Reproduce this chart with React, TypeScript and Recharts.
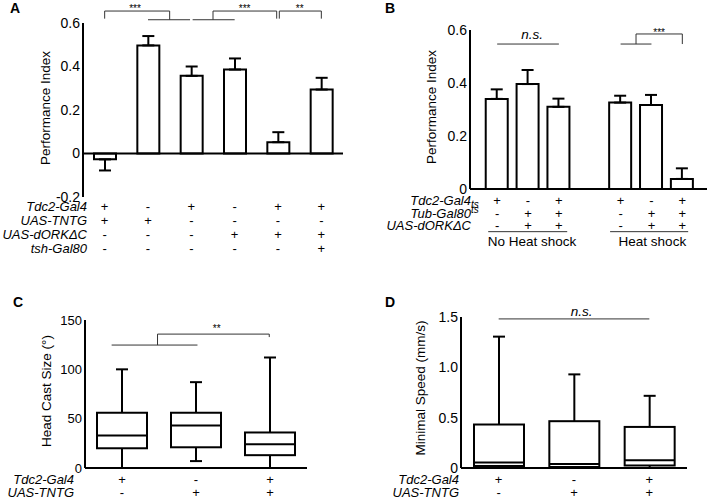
import React from 'react';
import { ComposedChart, Bar, XAxis, YAxis, ErrorBar, ReferenceLine, ReferenceDot } from 'recharts';

const FONT = '"Liberation Sans", Arial, Helvetica, sans-serif';

// ---- panel A: performance index
const aValues = [-0.027, 0.497, 0.357, 0.386, 0.052, 0.294];
const aSem = [0.051, 0.043, 0.043, 0.051, 0.046, 0.054];
const aRows = ['Tdc2-Gal4', 'UAS-TNTG', 'UAS-dORKΔC', 'tsh-Gal80'];
const aGeno = [
  ['+', '-', '+', '-', '+', '+'],
  ['+', '+', '-', '-', '-', '-'],
  ['-', '-', '-', '+', '+', '+'],
  ['-', '-', '-', '-', '-', '+'],
];
const aTicks = [-0.2, 0, 0.2, 0.4, 0.6];

// ---- panel B: performance index, heat shock
const bValues = [0.34, 0.396, 0.31, 0.326, 0.317, 0.038];
const bSem = [0.036, 0.053, 0.031, 0.026, 0.038, 0.04];
const bRows = ['Tdc2-Gal4', 'Tub-Gal80', 'UAS-dORKΔC'];
const bGeno = [
  ['+', '-', '+', '+', '-', '+'],
  ['-', '+', '+', '-', '+', '+'],
  ['-', '+', '+', '-', '+', '+'],
];
const bGroups = ['No Heat shock', 'Heat shock'];
const bTicks = [0, 0.2, 0.4, 0.6];

// ---- panel C: head cast size
const cMin = [0, 7, 0];
const cQ1 = [20, 21, 13];
const cMedian = [33, 43, 24];
const cQ3 = [56, 56, 36];
const cMax = [100, 87, 112];
const cTicks = [0, 50, 100, 150];

// ---- panel D: minimal speed
const dMin = [0, 0, 0];
const dQ1 = [0.02, 0.01, 0.025];
const dMedian = [0.055, 0.04, 0.077];
const dQ3 = [0.432, 0.465, 0.408];
const dMax = [1.305, 0.93, 0.717];
const dTicks = [0, 0.5, 1, 1.5];

const cdRows = ['Tdc2-Gal4', 'UAS-TNTG'];
const cdGeno = [
  ['+', '-', '+'],
  ['-', '+', '+'],
];

type Seg = [number, number, number, number];
type Note = { x: number; y: number; text: string; italic?: boolean; size?: number };

// significance brackets, in data units
const aLinks: Seg[] = [
  [1, 0.62, 1, 0.655], [1, 0.655, 2.5, 0.655], [2.5, 0.655, 2.5, 0.615], [2, 0.615, 2.97, 0.615],
  [3.03, 0.615, 4, 0.615], [3.5, 0.615, 3.5, 0.655], [3.5, 0.655, 4.97, 0.655], [4.97, 0.655, 4.97, 0.62],
  [5.03, 0.62, 5.03, 0.655], [5.03, 0.655, 6, 0.655], [6, 0.655, 6, 0.62],
];
const aNotes: Note[] = [
  { x: 1.7, y: 0.65, text: '***', size: 10 },
  { x: 4.23, y: 0.65, text: '***', size: 10 },
  { x: 5.5, y: 0.65, text: '**', size: 10 },
];
const bLinks: Seg[] = [
  [1, 0.547, 3, 0.547],
  [5, 0.547, 6, 0.547], [5.5, 0.547, 5.5, 0.585], [5.5, 0.585, 7, 0.585], [7, 0.585, 7, 0.547],
  [0.71, -0.161, 3.27, -0.161], [4.66, -0.161, 7.19, -0.161],
];
const bNotes: Note[] = [
  { x: 2.13, y: 0.566, text: 'n.s.', italic: true },
  { x: 6.25, y: 0.577, text: '***', size: 10 },
  { x: 2.13, y: -0.215, text: bGroups[0] },
  { x: 6.03, y: -0.215, text: bGroups[1] },
];
const cLinks: Seg[] = [
  [0.86, 124.6, 2.02, 124.6], [1.48, 124.6, 1.48, 135.7], [1.48, 135.7, 2.99, 135.7], [2.99, 135.7, 2.99, 132.7],
];
const cNotes: Note[] = [{ x: 2.28, y: 137.8, text: '**', size: 10 }];
const dLinks: Seg[] = [[1, 1.481, 3, 1.481]];
const dNotes: Note[] = [{ x: 2.1, y: 1.511, text: 'n.s.', italic: true }];

const aPos = aValues.map((_, i) => i + 1);
const bPos = bValues.map((_, i) => i + 1 + (i >= 3 ? 1 : 0)); // empty slot between groups
const cdPos = cMax.map((_, i) => i + 1);

const aData = aValues.map((v, i) => ({ pos: aPos[i], value: v, err: v < 0 ? [aSem[i], 0] : [0, aSem[i]] }));
const bData = bValues.map((v, i) => ({ pos: bPos[i], value: v, err: [0, bSem[i]] }));
const cData = cdPos.map((p, i) => ({ pos: p, min: cMin[i], q1: cQ1[i], median: cMedian[i], q3: cQ3[i], max: cMax[i] }));
const dData = cdPos.map((p, i) => ({ pos: p, min: dMin[i], q1: dQ1[i], median: dMedian[i], q3: dQ3[i], max: dMax[i] }));

const fmt1 = (v: number) => (v === 0 ? '0' : v.toFixed(1));
const axisStyle = { stroke: '#000', strokeWidth: 2 };
const tickStyle = { fill: '#000', fontSize: 14, fontFamily: FONT };

const makeTick = (positions: number[], geno: string[][], firstDy: number, gap: number) => (props: any) => {
  const i = positions.indexOf(props.payload?.value);
  if (i < 0) return <g />;
  return (
    <g>
      {geno.map((row, r) => (
        <text key={r} x={props.x} y={props.y + firstDy + r * gap} textAnchor="middle" fontSize={13} fontFamily={FONT} fill="#000">
          {row[i]}
        </text>
      ))}
    </g>
  );
};

const makeRowLabels = (rows: string[], x: number, y0: number, gap: number, suffix?: string[], shift?: number[]) => () => (
  <g>
    {rows.map((name, r) => (
      <g key={r}>
        <text x={x} y={y0 + r * gap} textAnchor="end" fontSize={13} fontStyle="italic" fontFamily={FONT} fill="#000">
          {name}
        </text>
        {suffix && suffix[r] ? (
          <text x={x} y={y0 + r * gap + (shift ? shift[r] : 0)} fontSize={10} fontStyle="italic" fontFamily={FONT} fill="#000">
            {suffix[r]}
          </text>
        ) : null}
      </g>
    ))}
  </g>
);

const yTitle = (text: string, x: number, y: number) => () => (
  <text x={0} y={0} transform={`translate(${x} ${y}) rotate(-90)`} textAnchor="middle" fontSize={13.5} fontFamily={FONT} fill="#000">
    {text}
  </text>
);

const noteLabel = (n: Note) => (p: any) => {
  const vb = p.viewBox || {};
  const x = (vb.x ?? 0) + (vb.width ?? 0) / 2;
  const y = (vb.y ?? 0) + (vb.height ?? 0) / 2;
  return (
    <text x={x} y={y} textAnchor="middle" fontSize={n.size ?? 13.5} fontStyle={n.italic ? 'italic' : 'normal'} fontFamily={FONT} fill="#000">
      {n.text}
    </text>
  );
};

const renderLinks = (links: Seg[]) =>
  links.map((s, i) => (
    <ReferenceLine
      key={`l${i}`}
      segment={[{ x: s[0], y: s[1] }, { x: s[2], y: s[3] }]}
      stroke="#333"
      strokeWidth={1}
      ifOverflow="visible"
    />
  ));

const renderNotes = (notes: Note[]) =>
  notes.map((n, i) => (
    <ReferenceDot key={`n${i}`} x={n.x} y={n.y} r={1} fill="none" stroke="none" ifOverflow="visible" label={noteLabel(n)} />
  ));

function BoxShape(props: any) {
  const { x, y, width, height, payload } = props;
  if (!payload) return <g />;
  const top = Math.min(y, y + height);
  const bottom = Math.max(y, y + height);
  const span = payload.max - payload.min || 1;
  const toY = (v: number) => bottom - ((v - payload.min) / span) * (bottom - top);
  const cx = x + width / 2;
  const cap = 6;
  return (
    <g stroke="#000" strokeWidth={2} fill="none">
      <line x1={cx} x2={cx} y1={toY(payload.max)} y2={toY(payload.q3)} />
      <line x1={cx - cap} x2={cx + cap} y1={toY(payload.max)} y2={toY(payload.max)} />
      <line x1={cx} x2={cx} y1={toY(payload.q1)} y2={toY(payload.min)} />
      <line x1={cx - cap} x2={cx + cap} y1={toY(payload.min)} y2={toY(payload.min)} />
      <rect x={x} y={toY(payload.q3)} width={width} height={toY(payload.q1) - toY(payload.q3)} fill="#fff" />
      <line x1={x} x2={x + width} y1={toY(payload.median)} y2={toY(payload.median)} />
    </g>
  );
}

const place = (left: number, top: number): React.CSSProperties => ({ position: 'absolute', left, top });

export default function App() {
  return (
    <div style={{ position: 'absolute', left: 0, top: 0, width: 711, height: 501, background: '#fff', fontFamily: FONT }}>
      {/* A */}
      <div style={place(0, 0)}>
        <ComposedChart width={360} height={262} data={aData} margin={{ top: 23, right: 17, bottom: 0, left: 0 }}>
          <XAxis
            type="number"
            dataKey="pos"
            domain={[0.5, 6.5]}
            ticks={aPos}
            interval={0}
            axisLine={false}
            tickLine={false}
            tickSize={0}
            tickMargin={0}
            height={65}
            tick={makeTick(aPos, aGeno, 13.5, 14)}
            label={makeRowLabels(aRows, 87, 210.5, 14)}
          />
          <YAxis
            domain={[-0.2, 0.6]}
            ticks={aTicks}
            tickFormatter={fmt1}
            width={83}
            axisLine={axisStyle}
            tickLine={false}
            tickSize={0}
            tickMargin={3}
            tick={tickStyle}
            label={yTitle('Performance Index', 50, 108)}
          />
          <Bar dataKey="value" barSize={22} fill="#fff" stroke="#000" strokeWidth={2} isAnimationActive={false}>
            <ErrorBar dataKey="err" width={6} stroke="#000" strokeWidth={2} />
          </Bar>
          <ReferenceLine y={0} stroke="#000" strokeWidth={2} />
          {renderLinks(aLinks)}
          {renderNotes(aNotes)}
        </ComposedChart>
      </div>

      {/* B */}
      <div style={place(360, 0)}>
        <ComposedChart width={351} height={250} data={bData} margin={{ top: 30, right: 4, bottom: 0, left: 0 }}>
          <XAxis
            type="number"
            dataKey="pos"
            domain={[0.12, 7.8]}
            ticks={bPos}
            interval={0}
            axisLine={axisStyle}
            tickLine={false}
            tickSize={0}
            tickMargin={0}
            height={61}
            tick={makeTick(bPos, bGeno, 16, 12.5)}
            label={makeRowLabels(bRows, 111, 205, 12.5, ['ts', 'ts', ''], [3, -5, 0])}
          />
          <YAxis
            domain={[0, 0.6]}
            ticks={bTicks}
            tickFormatter={fmt1}
            width={110}
            axisLine={axisStyle}
            tickLine={false}
            tickSize={0}
            tickMargin={3}
            tick={tickStyle}
            label={yTitle('Performance Index', 76, 107)}
          />
          <Bar dataKey="value" barSize={22} fill="#fff" stroke="#000" strokeWidth={2} isAnimationActive={false}>
            <ErrorBar dataKey="err" width={6} stroke="#000" strokeWidth={2} />
          </Bar>
          {renderLinks(bLinks)}
          {renderNotes(bNotes)}
        </ComposedChart>
      </div>

      {/* C */}
      <div style={place(0, 290)}>
        <ComposedChart width={360} height={211} data={cData} margin={{ top: 30, right: 53, bottom: 0, left: 0 }}>
          <XAxis
            type="number"
            dataKey="pos"
            domain={[0.5, 3.5]}
            ticks={cdPos}
            interval={0}
            axisLine={axisStyle}
            tickLine={false}
            tickSize={0}
            tickMargin={0}
            height={33}
            tick={makeTick(cdPos, cdGeno, 15.5, 13)}
            label={makeRowLabels(cdRows, 74, 193.5, 13)}
          />
          <YAxis
            domain={[0, 150]}
            ticks={cTicks}
            width={85}
            axisLine={axisStyle}
            tickLine={false}
            tickSize={0}
            tickMargin={3}
            tick={{ ...tickStyle, fontSize: 13 }}
            label={yTitle('Head Cast Size (°)', 51, 101)}
          />
          <Bar dataKey={(d: any) => [d.min, d.max]} barSize={50} shape={BoxShape} isAnimationActive={false} />
          {renderLinks(cLinks)}
          {renderNotes(cNotes)}
        </ComposedChart>
      </div>

      {/* D */}
      <div style={place(360, 290)}>
        <ComposedChart width={351} height={211} data={dData} margin={{ top: 27, right: 24, bottom: 0, left: 0 }}>
          <XAxis
            type="number"
            dataKey="pos"
            domain={[0.5, 3.5]}
            ticks={cdPos}
            interval={0}
            axisLine={axisStyle}
            tickLine={false}
            tickSize={0}
            tickMargin={0}
            height={33}
            tick={makeTick(cdPos, cdGeno, 15.5, 13)}
            label={makeRowLabels(cdRows, 99, 193.5, 13)}
          />
          <YAxis
            domain={[0, 1.5]}
            ticks={dTicks}
            tickFormatter={fmt1}
            width={101}
            axisLine={axisStyle}
            tickLine={false}
            tickSize={0}
            tickMargin={3}
            tick={tickStyle}
            label={yTitle('Minimal Speed (mm/s)', 65, 98)}
          />
          <Bar dataKey={(d: any) => [d.min, d.max]} barSize={50} shape={BoxShape} isAnimationActive={false} />
          {renderLinks(dLinks)}
          {renderNotes(dNotes)}
        </ComposedChart>
      </div>

      {/* panel letters */}
      <svg width={711} height={501} style={{ position: 'absolute', left: 0, top: 0, pointerEvents: 'none' }}>
        {['A', 'B', 'C', 'D'].map((t, i) => (
          <text key={t} x={i % 2 === 0 ? (i === 0 ? 10 : 13) : 385} y={i < 2 ? 13 : 307} fontSize={14} fontWeight="bold" fontFamily={FONT} fill="#000">
            {t}
          </text>
        ))}
      </svg>
    </div>
  );
}
